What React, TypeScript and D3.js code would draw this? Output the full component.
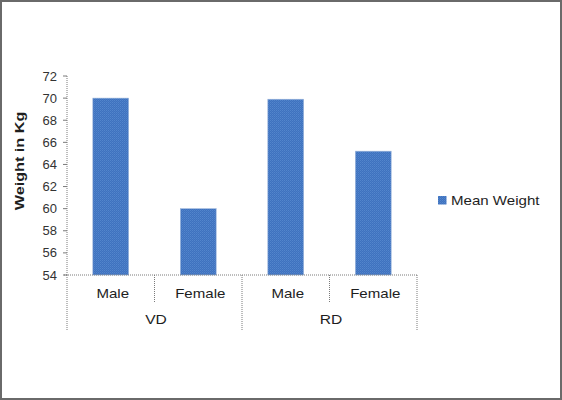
import React from "react";
import * as d3 from "d3";

const categories = ["Male", "Female", "Male", "Female"];
const groups = ["VD", "RD"];
const values = [70, 60, 69.9, 65.2];
const yTicks = [54, 56, 58, 60, 62, 64, 66, 68, 70, 72];
const seriesName = "Mean Weight";

const font = "Arial, 'Liberation Sans', sans-serif";

function Txt(props: { x: number; y: number; s: number; anchor?: string; size?: number; weight?: string; rotate?: number; children: React.ReactNode }) {
  const { x, y, s, anchor = "start", size = 13, weight = "normal", rotate = 0, children } = props;
  return (
    <g transform={`translate(${x},${y}) rotate(${rotate}) scale(${s},1)`}>
      <text textAnchor={anchor} fontFamily={font} fontSize={size} fontWeight={weight} fill="#1e1e1e">{children}</text>
    </g>
  );
}

export default function App() {
  const W = 562, H = 400;
  const left = 67, right = 417, top = 76, bottom = 275;
  const x = d3.scaleBand<number>().domain(d3.range(categories.length)).range([left, right]);
  const y = d3.scaleLinear().domain([54, 72]).range([bottom, top]);
  const bw = x.bandwidth() * 0.41;
  const gx = d3.scaleBand<number>().domain(d3.range(groups.length)).range([left, right]);
  const axisStroke = "#7a7a7a";
  return (
    <div style={{ position: "fixed", left: 0, top: 0 }}>
      <svg width={W} height={H} style={{ display: "block" }}>
        <defs>
          <pattern id="tex" width="2" height="2" patternUnits="userSpaceOnUse">
            <rect width="2" height="2" fill="#3e72bf" />
            <rect width="1" height="1" fill="#5385cc" />
            <rect x="1" y="1" width="1" height="1" fill="#4a7cc6" />
          </pattern>
        </defs>
        <rect x={0} y={0} width={W} height={H} fill="#fff" />
        <rect x={1} y={1} width={W - 2} height={H - 2} fill="none" stroke="#6a6a6a" strokeWidth={2} />
        {values.map((v, i) => (
          <rect key={i} x={x(i)! + (x.bandwidth() - bw) / 2} y={y(v)} width={bw} height={bottom - y(v)}
            fill="url(#tex)" stroke="#9fb8dc" strokeWidth={0.6} />
        ))}
        {/* y axis */}
        <line x1={left} x2={left} y1={top} y2={bottom} stroke={axisStroke} strokeDasharray="1,1" />
        {yTicks.map((t) => (
          <g key={t}>
            <line x1={left - 4} x2={left} y1={y(t)} y2={y(t)} stroke={axisStroke} />
            <text x={57} y={y(t)} dy="0.35em" textAnchor="end" fontFamily={font} fontSize={13} fill="#333">{t}</text>
          </g>
        ))}
        {/* x axis */}
        <line x1={left - 3} x2={right} y1={bottom} y2={bottom} stroke={axisStroke} strokeDasharray="1,1" />
        {categories.map((c, i) => (
          <Txt key={i} x={x(i)! + x.bandwidth() / 2 + 2} y={298} s={1.16} anchor="middle">{c}</Txt>
        ))}
        {d3.range(categories.length + 1).map((i) => {
          const xx = i < categories.length ? x(i)! : right;
          const long = i % 2 === 0;
          return <line key={i} x1={xx} x2={xx} y1={bottom} y2={long ? 331 : 303} stroke={axisStroke} strokeDasharray="1,1" />;
        })}
        {groups.map((g, i) => (
          <Txt key={g} x={gx(i)! + gx.bandwidth() / 2 + 1.5} y={324} s={1.2} anchor="middle">{g}</Txt>
        ))}
        <Txt x={24} y={161} s={1.2} rotate={-90} anchor="middle" weight="bold" size={13.5}>Weight in Kg</Txt>
        <rect x={438} y={196} width={8.5} height={8.5} fill="url(#tex)" />
        <Txt x={451} y={205} s={1.16}>{seriesName}</Txt>
      </svg>
    </div>
  );
}
